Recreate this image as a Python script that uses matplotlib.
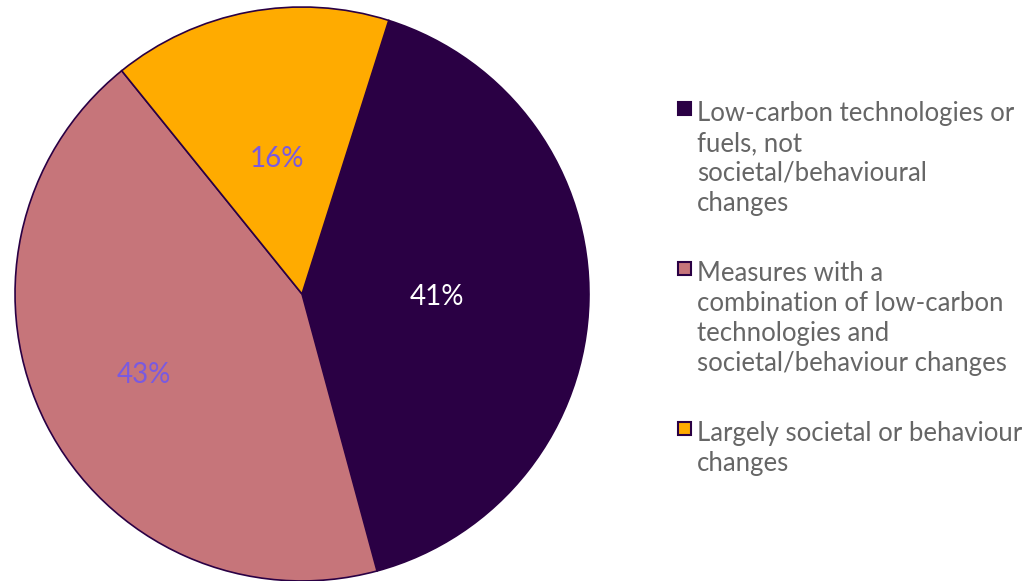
import matplotlib.pyplot as plt
from matplotlib.patches import Rectangle

labels = ['Low-carbon technologies or\nfuels, not\nsocietal/behavioural\nchanges',
          'Measures with a\ncombination of low-carbon\ntechnologies and\nsocietal/behaviour changes',
          'Largely societal or behaviour\nchanges']
shares = [40.9, 43.4, 15.7]
colors = ['#2a0044', '#c6757a', '#ffab00']
pct_colors = ['white', '#7a5ae0', '#7a5ae0']
pct_radius = [0.47, 0.62, 0.48]

plt.rcParams['font.family'] = ['Lato', 'DejaVu Sans']

fig = plt.figure(figsize=(10.36, 5.81), dpi=100)
ax = fig.add_axes([0.0145, 0.0, 0.554, 0.988])

wedges, texts, autotexts = ax.pie(shares, colors=colors, startangle=72.4, counterclock=False,
                                  autopct='%.0f%%', pctdistance=0.5,
                                  wedgeprops=dict(edgecolor='#2a0044', linewidth=1.2))
ax.set_xlim(-1, 1)
ax.set_ylim(-1, 1)

for t, c, r in zip(autotexts, pct_colors, pct_radius):
    x, y = t.get_position()
    t.set_position((x / 0.5 * r, y / 0.5 * r))
    t.set_color(c)
    t.set_fontsize(20)

# legend drawn by hand so the multi-line labels sit like the original
W, H = 1036, 581
y = 100
for lab, col in zip(labels, colors):
    fig.add_artist(Rectangle((678 / W, 1 - (y + 15) / H), 13 / W, 13 / H,
                             facecolor=col, edgecolor='#2a0044', linewidth=1.5,
                             transform=fig.transFigure))
    fig.text(697 / W, 1 - (y + 1) / H, lab, ha='left', va='top', fontsize=18.5,
             color='#666666', linespacing=1.25)
    y += lab.count('\n') * 30 + 30 + 40

plt.savefig('out.png', dpi=100)
